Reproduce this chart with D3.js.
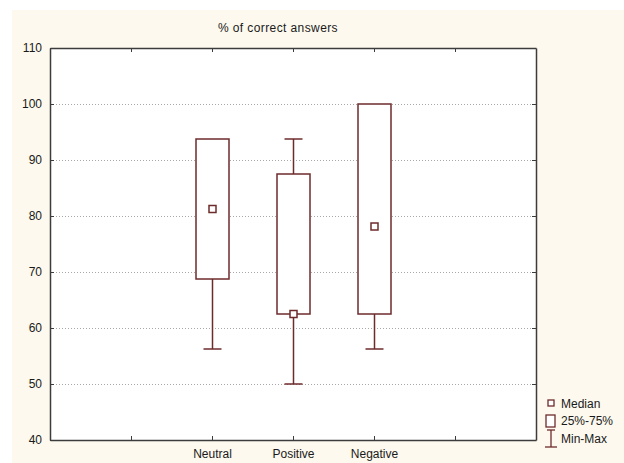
<!DOCTYPE html>
<html>
<head>
<meta charset="utf-8">
<script src="https://cdn.jsdelivr.net/npm/d3@7"></script>
<style>
  html, body { margin: 0; padding: 0; background: #ffffff; }
  svg { display: block; }
  text { font-family: "Liberation Sans", Arial, sans-serif; font-size: 12px; fill: #1a1a1a; }
</style>
</head>
<body>
<svg id="chart" width="624" height="463"></svg>
<script>
// Box-plot summary per condition
const categories = ["Neutral", "Positive", "Negative"];
const minVals    = [56.25, 50.0, 56.25];
const q1Vals     = [68.75, 62.5, 62.5];
const medianVals = [81.25, 62.5, 78.125];
const q3Vals     = [93.75, 87.5, 100.0];
const maxVals    = [93.75, 93.75, 100.0];
const yTicks     = [40, 50, 60, 70, 80, 90, 100, 110];
const gridTicks  = [50, 60, 70, 80, 90, 100];
const xTickSlots = [1, 2, 3, 4, 5];
const title = "% of correct answers";
const legendLabels = ["Median", "25%-75%", "Min-Max"];

const W = 624, H = 463;
const plot = { left: 50, right: 536, top: 48, bottom: 440 };
const boxColor = "#6e2b2b";
const axisColor = "#3c3c3c";

const svg = d3.select("#chart");

// cream page background
svg.append("rect").attr("x", 12).attr("y", 10).attr("width", W - 12).attr("height", H - 10)
  .attr("fill", "#fdf9ee");

// white plotting area
svg.append("rect")
  .attr("x", plot.left).attr("y", plot.top)
  .attr("width", plot.right - plot.left).attr("height", plot.bottom - plot.top)
  .attr("fill", "#ffffff");

const x = d3.scaleLinear().domain([0, 6]).range([plot.left, plot.right]);
const y = d3.scaleLinear().domain([40, 110]).range([plot.bottom, plot.top]);
const slot = i => i + 2;

// dotted gridlines
svg.append("g").selectAll("line").data(gridTicks).join("line")
  .attr("x1", plot.left).attr("x2", plot.right)
  .attr("y1", d => y(d) + 0.5).attr("y2", d => y(d) + 0.5)
  .attr("stroke", "#a8a8a8").attr("stroke-width", 1)
  .attr("stroke-dasharray", "1,2");

// axes with inward ticks on all four sides
function styleAxis(g) {
  g.select(".domain").attr("stroke", axisColor).attr("stroke-width", 1.5);
  g.selectAll(".tick line").attr("stroke", axisColor);
  g.selectAll(".tick text").style("font-family", "Liberation Sans, Arial, sans-serif")
    .style("font-size", "12px").attr("fill", "#1a1a1a");
}

const axisL = svg.append("g").attr("transform", `translate(${plot.left},0)`)
  .call(d3.axisLeft(y).tickValues(yTicks).tickSizeInner(-4).tickSizeOuter(0).tickPadding(8));
styleAxis(axisL);

const axisR = svg.append("g").attr("transform", `translate(${plot.right},0)`)
  .call(d3.axisRight(y).tickValues(yTicks).tickSizeInner(-4).tickSizeOuter(0).tickFormat(""));
styleAxis(axisR);

const axisB = svg.append("g").attr("transform", `translate(0,${plot.bottom})`)
  .call(d3.axisBottom(x).tickValues(xTickSlots).tickSizeInner(-4).tickSizeOuter(0)
    .tickFormat(d => categories[d - 2] || "").tickPadding(9));
styleAxis(axisB);

const axisT = svg.append("g").attr("transform", `translate(0,${plot.top})`)
  .call(d3.axisTop(x).tickValues(xTickSlots).tickSizeInner(-4).tickSizeOuter(0).tickFormat(""));
styleAxis(axisT);

// title
svg.append("text").attr("x", 278).attr("y", 32).attr("text-anchor", "middle")
  .style("letter-spacing", "0.4px").text(title);

// boxes and whiskers
const boxW = 33, capW = 18, medS = 7;
const data = categories.map((c, i) => ({
  c, i, min: minVals[i], q1: q1Vals[i], med: medianVals[i], q3: q3Vals[i], max: maxVals[i]
}));

const marks = svg.append("g");
data.forEach(d => {
  const cx = Math.round(x(slot(d.i))) + 0.5;
  // lower whisker
  marks.append("line").attr("x1", cx).attr("x2", cx).attr("y1", y(d.min)).attr("y2", y(d.q1))
    .attr("stroke", boxColor).attr("stroke-width", 1.5);
  marks.append("line").attr("x1", cx - capW / 2).attr("x2", cx + capW / 2)
    .attr("y1", y(d.min)).attr("y2", y(d.min)).attr("stroke", boxColor).attr("stroke-width", 1.5);
  // upper whisker
  if (d.max > d.q3) {
    marks.append("line").attr("x1", cx).attr("x2", cx).attr("y1", y(d.max)).attr("y2", y(d.q3))
      .attr("stroke", boxColor).attr("stroke-width", 1.5);
    marks.append("line").attr("x1", cx - capW / 2).attr("x2", cx + capW / 2)
      .attr("y1", y(d.max)).attr("y2", y(d.max)).attr("stroke", boxColor).attr("stroke-width", 1.5);
  }
  // interquartile box
  marks.append("rect").attr("x", cx - boxW / 2).attr("y", y(d.q3))
    .attr("width", boxW).attr("height", y(d.q1) - y(d.q3))
    .attr("fill", "#ffffff").attr("stroke", boxColor).attr("stroke-width", 1.5);
  // median marker
  marks.append("rect").attr("x", cx - medS / 2).attr("y", y(d.med) - medS / 2)
    .attr("width", medS).attr("height", medS)
    .attr("fill", "#ffffff").attr("stroke", boxColor).attr("stroke-width", 1.5);
});

// legend
const lg = svg.append("g");
const lx = 551, tx = 561;
lg.append("rect").attr("x", lx - 3).attr("y", 400).attr("width", 6).attr("height", 6)
  .attr("fill", "#fff").attr("stroke", boxColor).attr("stroke-width", 1.3);
lg.append("text").attr("x", tx).attr("y", 408).text(legendLabels[0]);
lg.append("rect").attr("x", lx - 5).attr("y", 415).attr("width", 9).attr("height", 12)
  .attr("fill", "#fff").attr("stroke", boxColor).attr("stroke-width", 1.3);
lg.append("text").attr("x", tx).attr("y", 425).text(legendLabels[1]);
lg.append("line").attr("x1", lx - 4).attr("x2", lx + 4).attr("y1", 430).attr("y2", 430)
  .attr("stroke", boxColor).attr("stroke-width", 1.3);
lg.append("line").attr("x1", lx).attr("x2", lx).attr("y1", 430).attr("y2", 447)
  .attr("stroke", boxColor).attr("stroke-width", 1.3);
lg.append("line").attr("x1", lx - 6).attr("x2", lx + 6).attr("y1", 447).attr("y2", 447)
  .attr("stroke", boxColor).attr("stroke-width", 1.3);
lg.append("text").attr("x", tx).attr("y", 443).text(legendLabels[2]);
</script>
</body>
</html>
